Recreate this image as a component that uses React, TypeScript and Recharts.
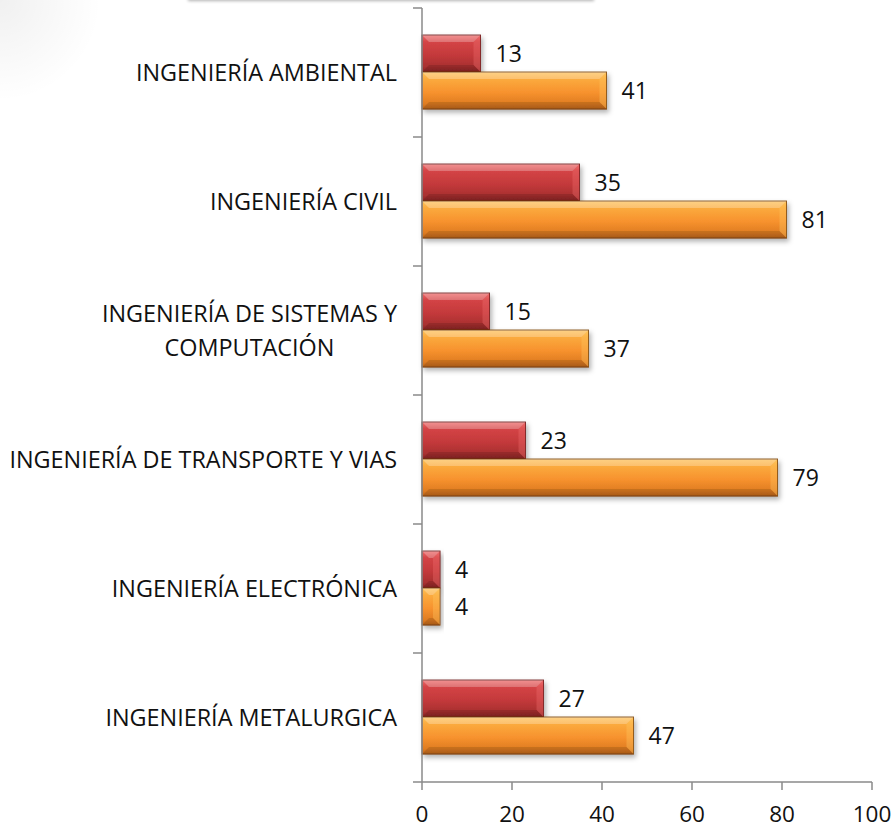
import { Bar, BarChart, LabelList, XAxis, YAxis } from "recharts";

const categories = [
  "INGENIERÍA AMBIENTAL",
  "INGENIERÍA CIVIL",
  "INGENIERÍA DE SISTEMAS Y\nCOMPUTACIÓN",
  "INGENIERÍA DE TRANSPORTE Y VIAS",
  "INGENIERÍA ELECTRÓNICA",
  "INGENIERÍA METALURGICA",
];
const redValues = [13, 35, 15, 23, 4, 27];
const orangeValues = [41, 81, 37, 79, 4, 47];
const xTicks = [0, 20, 40, 60, 80, 100];

const data = categories.map((name, i) => ({
  name,
  red: redValues[i],
  orange: orangeValues[i],
}));

const W = 895;
const H = 829;
const MARGIN = { top: 8, right: 23, bottom: 0, left: 0 };
const Y_AXIS_W = 422;
const X_AXIS_H = 47;
const BAND = (H - MARGIN.top - X_AXIS_H) / categories.length;
const FONT = "'Open Sans', sans-serif";
const AXIS_COLOR = "#8a8a8a";

let ctx: CanvasRenderingContext2D | null = null;
function textWidth(s: string, size: number) {
  if (!ctx) ctx = document.createElement("canvas").getContext("2d");
  if (!ctx) return s.length * size * 0.6;
  ctx.font = `${size}px ${FONT}`;
  return ctx.measureText(s).width;
}

function CategoryTick(props: any) {
  const { x, y, payload, index } = props;
  const axisX = x + 25;
  const lines: string[] = String(payload.value).split("\n");
  const size = 23.4;
  const lineH = 34;
  const top = y - BAND / 2;
  const maxW = Math.max(...lines.map((l) => textWidth(l, size)));
  return (
    <g>
      <line x1={axisX - 9} x2={axisX} y1={top} y2={top} stroke={AXIS_COLOR} strokeWidth={1.5} />
      {index === categories.length - 1 && (
        <line x1={axisX - 9} x2={axisX} y1={top + BAND} y2={top + BAND} stroke={AXIS_COLOR} strokeWidth={1.5} />
      )}
      {lines.length === 1 ? (
        <text x={x} y={y} dy="0.36em" textAnchor="end" fontSize={size} fontFamily={FONT} fill="#111">
          {lines[0]}
        </text>
      ) : (
        lines.map((l, i) => (
          <text
            key={i}
            x={x - maxW / 2}
            y={y + (i - (lines.length - 1) / 2) * lineH}
            dy="0.36em"
            textAnchor="middle"
            fontSize={size}
            fontFamily={FONT}
            fill="#111"
          >
            {l}
          </text>
        ))
      )}
    </g>
  );
}

function bevelShape(grad: string, edge: string, hi: string) {
  return (props: any) => {
    const { x, y, width, height } = props;
    if (!width || width <= 0) return null;
    const b = Math.min(7, width / 2, height / 3);
    return (
      <g filter="url(#barShadow)">
        <rect x={x} y={y} width={width} height={height} fill={`url(#${grad})`} stroke={edge} strokeWidth={1} />
        <polygon
          points={`${x + width},${y} ${x + width - b},${y + b} ${x + width - b},${y + height - b} ${x + width},${y + height}`}
          fill={hi}
          opacity={0.35}
        />
        <polygon
          points={`${x},${y} ${x + b},${y + b} ${x + width - b},${y + b} ${x + width},${y}`}
          fill="#ffffff"
          opacity={0.25}
        />
        <polygon
          points={`${x},${y + height} ${x + b},${y + height - b} ${x + width - b},${y + height - b} ${x + width},${y + height}`}
          fill="#000000"
          opacity={0.12}
        />
      </g>
    );
  };
}

const RedBar = bevelShape("redGrad", "#6e1c1c", "#f07070");
const OrangeBar = bevelShape("orangeGrad", "#7d4510", "#ffc860");

export default function App() {
  return (
    <div style={{ position: "absolute", left: 0, top: 0, width: W, height: H, background: "#fff", overflow: "hidden" }}>
      <div
        style={{
          position: "absolute",
          left: 0,
          top: 0,
          width: 120,
          height: 100,
          background: "radial-gradient(circle at 0 0, rgba(0,0,0,0.06), rgba(0,0,0,0) 65%)",
        }}
      />
      <div
        style={{
          position: "absolute",
          left: 188,
          top: -30,
          width: 406,
          height: 30,
          background: "#fff",
          boxShadow: "0 1px 3px rgba(0,0,0,0.3)",
        }}
      />
      <BarChart
        width={W}
        height={H}
        data={data}
        layout="vertical"
        margin={MARGIN}
        barCategoryGap="21%"
        barGap={0}
      >
        <defs>
          <linearGradient id="redGrad" x1="0" y1="0" x2="0" y2="1">
            <stop offset="0%" stopColor="#ee6a6a" />
            <stop offset="18%" stopColor="#d44446" />
            <stop offset="55%" stopColor="#c3393b" />
            <stop offset="85%" stopColor="#a93030" />
            <stop offset="100%" stopColor="#8c2626" />
          </linearGradient>
          <linearGradient id="orangeGrad" x1="0" y1="0" x2="0" y2="1">
            <stop offset="0%" stopColor="#fdc25a" />
            <stop offset="18%" stopColor="#fbab3e" />
            <stop offset="55%" stopColor="#f7922e" />
            <stop offset="85%" stopColor="#e07d22" />
            <stop offset="100%" stopColor="#c0661a" />
          </linearGradient>
          <filter id="barShadow" x="-10%" y="-20%" width="130%" height="160%">
            <feDropShadow dx="2" dy="3" stdDeviation="2.5" floodColor="#000" floodOpacity="0.3" />
          </filter>
        </defs>
        <XAxis
          type="number"
          domain={[0, 100]}
          ticks={xTicks}
          height={X_AXIS_H}
          tickSize={8}
          tickMargin={16}
          axisLine={{ stroke: AXIS_COLOR, strokeWidth: 1.5 }}
          tickLine={{ stroke: AXIS_COLOR, strokeWidth: 1.5 }}
          tick={{ fontSize: 22.5, fontFamily: FONT, fill: "#111" }}
        />
        <YAxis
          type="category"
          dataKey="name"
          width={Y_AXIS_W}
          tickSize={8}
          tickMargin={17}
          tickLine={false}
          axisLine={{ stroke: AXIS_COLOR, strokeWidth: 1.5 }}
          tick={<CategoryTick />}
          interval={0}
        />
        <Bar dataKey="red" shape={RedBar} isAnimationActive={false}>
          <LabelList dataKey="red" position="right" offset={15} fontSize={23} fontFamily={FONT} fill="#111" />
        </Bar>
        <Bar dataKey="orange" shape={OrangeBar} isAnimationActive={false}>
          <LabelList dataKey="orange" position="right" offset={15} fontSize={23} fontFamily={FONT} fill="#111" />
        </Bar>
      </BarChart>
    </div>
  );
}
